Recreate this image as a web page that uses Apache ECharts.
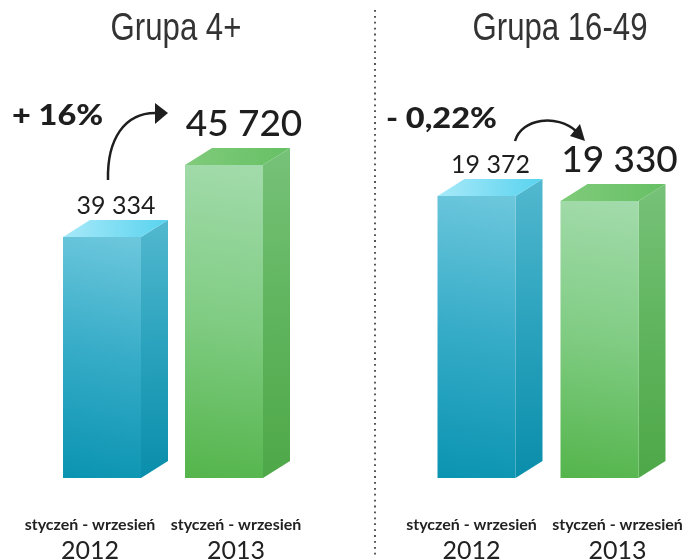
<!DOCTYPE html>
<html>
<head>
<meta charset="utf-8">
<script src="https://cdn.jsdelivr.net/npm/echarts@6/dist/echarts.min.js"></script>
<style>
  html, body { margin: 0; padding: 0; background: #fff; }
  #chart { width: 687px; height: 559px; }
</style>
</head>
<body>
<div id="chart"></div>
<script>
// 数据
var groups = ['Grupa 4+', 'Grupa 16-49'];
var years = ['2012', '2013'];
var period = 'styczeń - wrzesień';
var values4plus = [39334, 45720];
var values1649 = [19372, 19330];
var changes = ['+ 16%', '- 0,22%'];

var chart = echarts.init(document.getElementById('chart'));

function fmt(v) {
  return String(v).replace(/\B(?=(\d{3})+(?!\d))/g, ' ');
}

function lg(x, y, x2, y2, stops) {
  return new echarts.graphic.LinearGradient(x, y, x2, y2, stops.map(function (c, i) {
    return { offset: i / (stops.length - 1), color: c };
  }));
}

var palette = [
  { // 2012 蓝
    front: ['#6cc7dc', '#35abc7', '#0b94b1'],
    side: ['#52b8cf', '#2aa2bd', '#0a8eab'],
    top: ['#a8e9f8', '#58d3ef']
  },
  { // 2013 绿
    front: ['#a2dbab', '#80cc83', '#55b54c'],
    side: ['#77c279', '#5fb45d', '#4ea848'],
    top: ['#80cb7b', '#66c064']
  }
];

var W = 78, D = 27, DY = 17;

function makeRender(yMin) {
  return function (params, api) {
    var i = params.dataIndex;
    var top = api.coord([api.value(0), api.value(1)]);
    var bot = api.coord([api.value(0), yMin]);
    var fx = top[0] - W / 2, ty = top[1], by = bot[1];
    var c = palette[i];
    var big = i === 1;
    return {
      type: 'group',
      children: [
        { type: 'polygon', shape: { points: [[fx + W, ty], [fx + W + D, ty - DY], [fx + W + D, by - DY], [fx + W, by]] },
          style: { fill: lg(0, 0, 0.2, 1, c.side) } },
        { type: 'polygon', shape: { points: [[fx, ty], [fx + W, ty], [fx + W, by], [fx, by]] },
          style: { fill: lg(0.8, 0, 0.2, 1, c.front) } },
        { type: 'polygon', shape: { points: [[fx, ty], [fx + D, ty - DY], [fx + W + D, ty - DY], [fx + W, ty]] },
          style: { fill: lg(0, 0, 1, 0, c.top) } },
        { type: 'text',
          style: {
            text: fmt(api.value(1)),
            x: fx + (big ? 59 : 53), y: ty - (big ? 41 : 31),
            align: 'center', verticalAlign: 'middle',
            font: (big ? '500 37px' : '25px') + ' Lato, "DejaVu Sans", sans-serif',
            fill: '#1e1e1e'
          } }
      ]
    };
  };
}

function catData(shifts) {
  return years.map(function (y, i) {
    var s = shifts[i];
    return {
      value: y,
      textStyle: { padding: s < 0 ? [0, -2 * s, 0, 0] : [0, 0, 0, 2 * s] }
    };
  });
}

var axisLabel = {
  margin: 36,
  interval: 0,
  formatter: function (v) { return '{a|' + period + '}\n{b|' + v + '}'; },
  rich: {
    a: { fontFamily: 'Lato, sans-serif', fontWeight: 'bold', fontSize: 16, lineHeight: 22, color: '#222' },
    b: { fontFamily: 'Lato, sans-serif', fontSize: 25, lineHeight: 30, color: '#222' }
  }
};

var yMins = [17960, 17000];

function titleText(txt, cx) {
  return {
    type: 'text', x: cx, y: 30, scaleX: 0.82,
    style: { text: txt, align: 'center', verticalAlign: 'middle',
      font: '38px "Liberation Sans", Arial, sans-serif', fill: '#333' }
  };
}

function changeText(txt, x, y) {
  return {
    type: 'text', x: x, y: y, scaleX: 1.12,
    style: { text: txt, verticalAlign: 'middle', font: '900 29px Lato, sans-serif', fill: '#1e1e1e' }
  };
}

var option = {
  animation: false,
  grid: [
    { left: 41, width: 244, top: 100, bottom: 81, outerBoundsMode: 'none', containLabel: false },
    { left: 415, width: 246, top: 100, bottom: 81, outerBoundsMode: 'none', containLabel: false }
  ],
  xAxis: [
    { type: 'category', gridIndex: 0, data: catData([-12, 12]), axisLine: { show: false }, axisTick: { show: false }, axisLabel: axisLabel },
    { type: 'category', gridIndex: 1, data: catData([-5, 18]), axisLine: { show: false }, axisTick: { show: false }, axisLabel: axisLabel }
  ],
  yAxis: [
    { type: 'value', gridIndex: 0, min: yMins[0], max: 51485, show: false, splitLine: { show: false } },
    { type: 'value', gridIndex: 1, min: yMins[1], max: 20179, show: false, splitLine: { show: false } }
  ],
  series: [
    { type: 'custom', xAxisIndex: 0, yAxisIndex: 0, renderItem: makeRender(yMins[0]),
      data: values4plus.map(function (v, i) { return [i, v]; }), encode: { x: 0, y: 1 } },
    { type: 'custom', xAxisIndex: 1, yAxisIndex: 1, renderItem: makeRender(yMins[1]),
      data: values1649.map(function (v, i) { return [i, v]; }), encode: { x: 0, y: 1 } }
  ],
  graphic: [
    titleText(groups[0], 176),
    titleText(groups[1], 560),
    // 虚线分隔
    { type: 'line', shape: { x1: 375, y1: 10, x2: 375, y2: 555 },
      style: { stroke: '#444', lineWidth: 1.8, lineDash: [1.8, 4.1] } },
    // 变化百分比
    changeText(changes[0], 12, 116),
    changeText(changes[1], 386, 119),
    // 箭头
    { type: 'bezierCurve', shape: { x1: 108, y1: 180, cpx1: 107, cpy1: 140, cpx2: 124, cpy2: 112, x2: 157, y2: 113 },
      style: { stroke: '#1e1e1e', lineWidth: 2.5, fill: null } },
    { type: 'polygon', shape: { points: [[155, 103], [168, 113], [155, 124]] }, style: { fill: '#1e1e1e' } },
    { type: 'bezierCurve', shape: { x1: 515, y1: 141, cpx1: 522, cpy1: 118, cpx2: 557, cpy2: 114, x2: 576, y2: 131 },
      style: { stroke: '#1e1e1e', lineWidth: 2.5, fill: null } },
    { type: 'polygon', shape: { points: [[570, 136], [580, 124], [585, 141]] }, style: { fill: '#1e1e1e' } }
  ]
};

chart.setOption(option);
</script>
</body>
</html>
